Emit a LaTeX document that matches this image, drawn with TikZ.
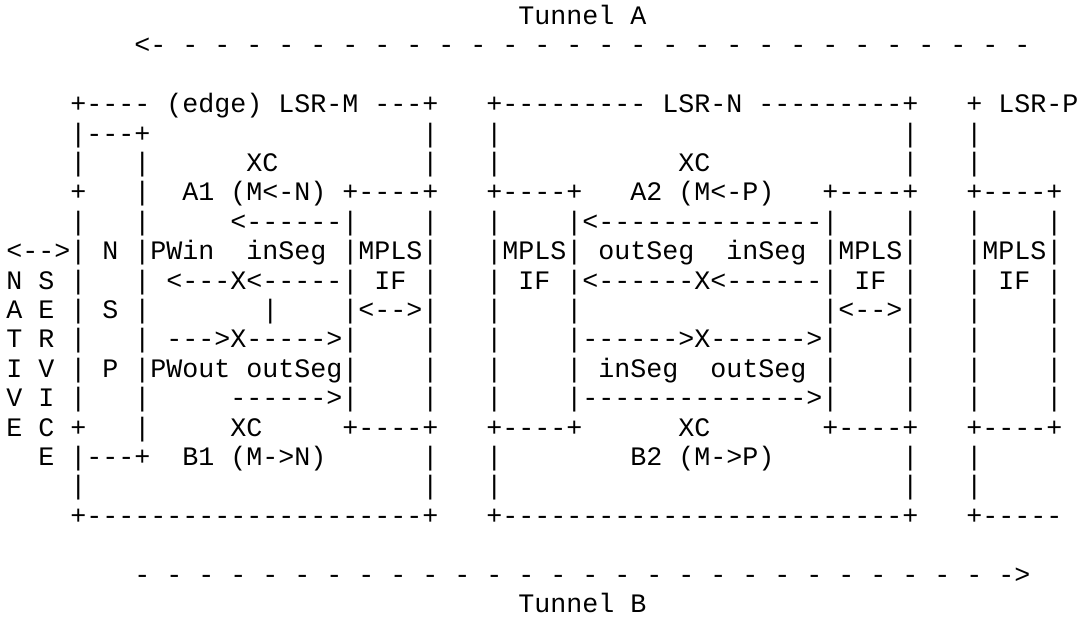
\documentclass[tikz,border=0pt]{standalone}
\usepackage{fontspec}
\setmonofont{Liberation Mono}
\tikzset{asc/.style={anchor=base west,inner sep=0pt,font=\ttfamily\fontsize{20}{24}\selectfont}}

\begin{document}
\begin{tikzpicture}[x=12pt,y=-22.05pt]
\useasboundingbox (0,0) rectangle (67.625,20.986);
\begin{scope}[shift={(0.375,0.833)}]
% tunnel A
\node[asc] (tunA) at (32,0) {Tunnel A};
\node[asc] (tunAtip) at (8,1) {<};
\foreach \c in {9,11,...,63} \node[asc] (tunA-\c) at (\c,1) {-};
% LSR boxes, top
\foreach \c/\t in {4/{+---- (edge) LSR-M ---+},30/{+--------- LSR-N ---------+},60/{+ LSR-P}}
  \node[asc] (r3-\c) at (\c,3) {\t};
\foreach \c/\t in {4/{|---+},26/|,30/|,56/|,60/|}
  \node[asc] (r4-\c) at (\c,4) {\t};
\foreach \c/\t in {4/|,8/|,15/XC,26/|,30/|,42/XC,56/|,60/|}
  \node[asc] (r5-\c) at (\c,5) {\t};
\foreach \c/\t in {4/+,8/|,11/{A1 (M<-N)},21/{+----+},30/{+----+},39/{A2 (M<-P)},51/{+----+},60/{+----+}}
  \node[asc] (r6-\c) at (\c,6) {\t};
\foreach \c/\t in {4/|,8/|,14/{<------|},26/|,30/|,35/{|<--------------|},56/|,60/|,65/|}
  \node[asc] (r7-\c) at (\c,7) {\t};
% native service, NSP, MPLS IF
\foreach \c/\t in {0/{<-->| N |PWin~~inSeg |MPLS|},30/{|MPLS| outSeg~~inSeg |MPLS|},60/{|MPLS|}}
  \node[asc] (r8-\c) at (\c,8) {\t};
\foreach \c/\t in {0/{N S |},8/{| <---X<-----| IF |},30/{| IF |<------X<------| IF |},60/{| IF |}}
  \node[asc] (r9-\c) at (\c,9) {\t};
\foreach \c/\t in {0/{A E |},6/S,8/|,16/|,21/{|<-->|},30/|,35/|,51/{|<-->|},60/|,65/|}
  \node[asc] (r10-\c) at (\c,10) {\t};
\foreach \c/\t in {0/{T R |},8/|,10/{--->X----->|},26/|,30/|,35/{|------>X------>|},56/|,60/|,65/|}
  \node[asc] (r11-\c) at (\c,11) {\t};
\foreach \c/\t in {0/{I V |},6/P,8/{|PWout outSeg|},26/|,30/|,35/{| inSeg~~outSeg |},56/|,60/|,65/|}
  \node[asc] (r12-\c) at (\c,12) {\t};
\foreach \c/\t in {0/{V I |},8/|,14/{------>|},26/|,30/|,35/{|-------------->|},56/|,60/|,65/|}
  \node[asc] (r13-\c) at (\c,13) {\t};
\foreach \c/\t in {0/{E C +},8/|,14/XC,21/{+----+},30/{+----+},42/XC,51/{+----+},60/{+----+}}
  \node[asc] (r14-\c) at (\c,14) {\t};
\foreach \c/\t in {2/{E |---+},11/{B1 (M->N)},26/|,30/|,39/{B2 (M->P)},56/|,60/|}
  \node[asc] (r15-\c) at (\c,15) {\t};
\foreach \c/\t in {4/|,26/|,30/|,56/|,60/|}
  \node[asc] (r16-\c) at (\c,16) {\t};
% LSR boxes, bottom
\foreach \c/\t in {4/{+---------------------+},30/{+-------------------------+},60/{+-----}}
  \node[asc] (r17-\c) at (\c,17) {\t};
% tunnel B
\foreach \c in {8,10,...,62} \node[asc] (tunB-\c) at (\c,19) {-};
\node[asc] (tunBtip) at (63,19) {>};
\node[asc] (tunB) at (32,20) {Tunnel B};
\end{scope}
\end{tikzpicture}
\end{document}
